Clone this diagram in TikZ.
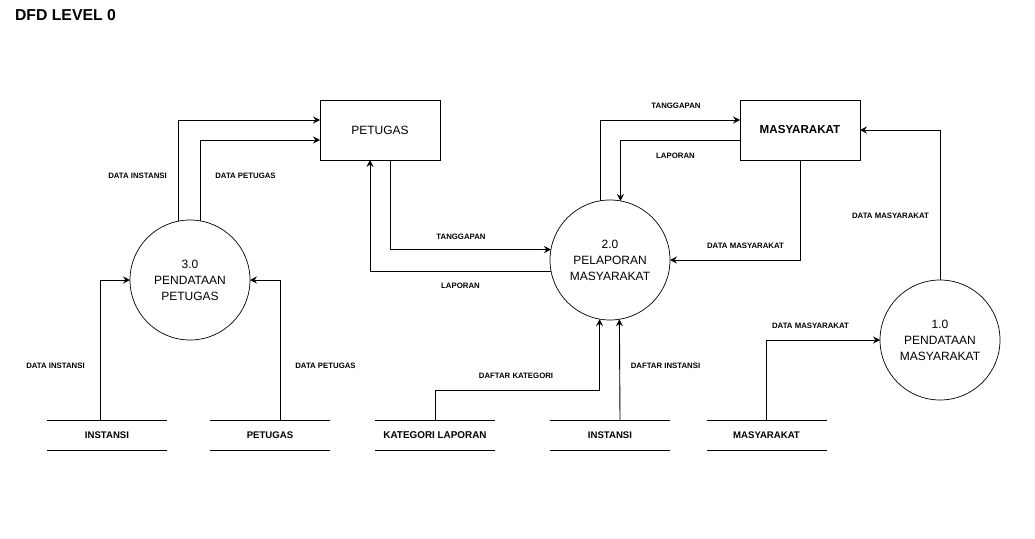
\documentclass[tikz,border=0pt]{standalone}
\usepackage{fontspec}
\setmainfont{Liberation Sans}
\usetikzlibrary{arrows.meta,calc}
\begin{document}
\begin{tikzpicture}[x=1pt,y=-1pt,
  every node/.style={font=\fontsize{12}{16}\selectfont, inner sep=0pt, outer sep=0pt},
  entity/.style={draw, line width=0.9pt, minimum width=120pt, minimum height=60pt},
  proc/.style={draw, circle, line width=0.7pt, minimum size=120pt, align=center},
  store/.style={minimum width=120pt, minimum height=30pt,
    append after command={\pgfextra{\let\tmpn\tikzlastnode
      \draw[line width=0.9pt] (\tmpn.north west) -- (\tmpn.north east)
        (\tmpn.south west) -- (\tmpn.south east);}}},
  storetext/.style={font=\fontsize{9.6}{12}\selectfont\bfseries},
  flow/.style={line width=0.9pt, -{Stealth[length=7pt,width=7pt,inset=2.5pt]}},
  lbl/.style={font=\fontsize{7.8}{9}\selectfont\bfseries}
]
\useasboundingbox (0,0) rectangle (1035,538);
\fill[white] (0,0) rectangle (1035,538);

\node[anchor=west, font=\fontsize{15.8}{18}\selectfont\bfseries] (title) at (15,15.5) {DFD LEVEL 0};

% entities
\node[entity] (pb) at (380,130) {PETUGAS};
\node[entity, font=\fontsize{11.6}{14}\selectfont\bfseries] (mb) at (800,130) {MASYARAKAT};

% processes
\node[proc] (c3) at (190,280) {3.0\\PENDATAAN\\PETUGAS};
\node[proc] (c2) at (610,260) {2.0\\PELAPORAN\\MASYARAKAT};
\node[proc] (c1) at (940,340) {1.0\\PENDATAAN\\MASYARAKAT};

% stores
\node[store, storetext] (si) at (107,435) {INSTANSI};
\node[store, storetext] (sp) at (270,435) {PETUGAS};
\node[store, font=\fontsize{9.9}{12}\selectfont\bfseries] (sk) at (435,435) {KATEGORI LAPORAN};
\node[store, storetext] (sim) at (610,435) {INSTANSI};
\node[store, storetext] (ms) at (766.5,435) {MASYARAKAT};

% flows
\draw[flow] (c3.101.54) |- ($(pb.west)+(0,-10)$);
\draw[flow] (c3.80.41) |- ($(pb.west)+(0,10)$);
\draw[flow] ($(pb.south)+(10,0)$) |- (c2.170.41);
\draw[flow] (c2.191.54) -| ($(pb.south)+(-10,0)$);
\draw[flow] (c2.99.59) |- ($(mb.west)+(0,-10)$);
\draw[flow] ($(mb.west)+(0,10)$) -| (c2.80.41);
\draw[flow] (mb.south) |- (c2.east);
\draw[flow] (c1.north) |- (mb.east);
\draw[flow] (ms.north) |- (c1.west);
\draw[flow] ($(si.north)+(-7,0)$) |- (c3.west);
\draw[flow] ($(sp.north)+(10,0)$) |- (c3.east);
\draw[flow] (sk.north) -- ++(0,-30) -| (c2.260.41);
\draw[flow] ($(sim.north)+(10,0)$) -- (c2.279.59);

% labels
\node[lbl] (l1) at (137.5,176) {DATA INSTANSI};
\node[lbl] (l2) at (245.5,176) {DATA PETUGAS};
\node[lbl] (l3) at (461,237) {TANGGAPAN};
\node[lbl] (l4) at (460.5,286) {LAPORAN};
\node[lbl] (l5) at (676,106) {TANGGAPAN};
\node[lbl] (l6) at (675.5,156) {LAPORAN};
\node[lbl] (l7) at (745.5,246) {DATA MASYARAKAT};
\node[lbl] (l8) at (890.5,216) {DATA MASYARAKAT};
\node[lbl] (l9) at (810.5,326) {DATA MASYARAKAT};
\node[lbl] (l10) at (665.5,366) {DAFTAR INSTANSI};
\node[lbl] (l11) at (516,376) {DAFTAR KATEGORI};
\node[lbl] (l12) at (55.5,366) {DATA INSTANSI};
\node[lbl] (l13) at (325.5,366) {DATA PETUGAS};
\end{tikzpicture}
\end{document}
